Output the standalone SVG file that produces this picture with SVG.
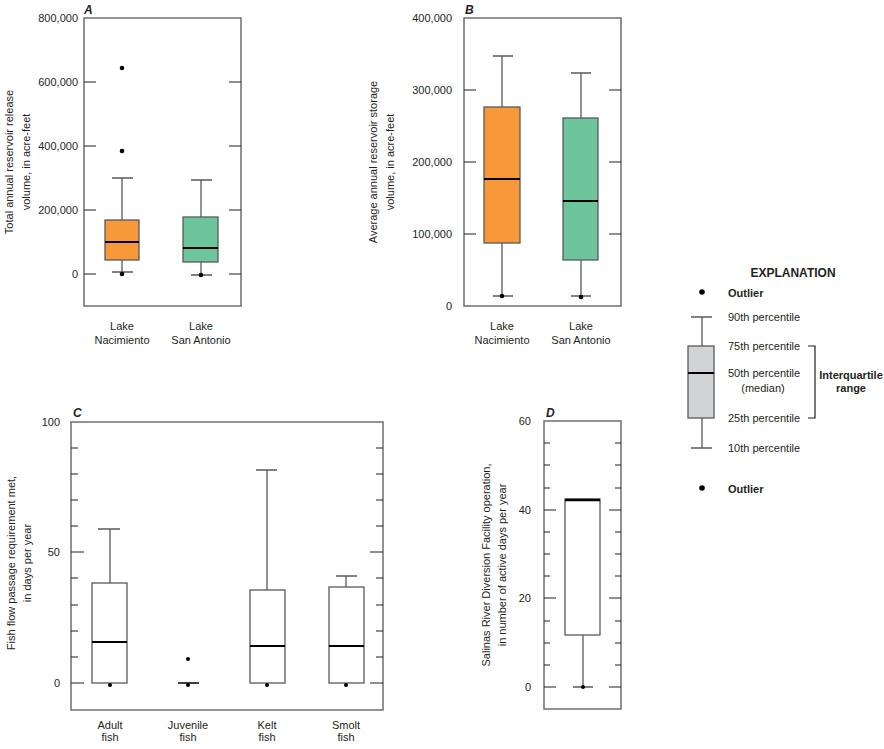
<svg xmlns="http://www.w3.org/2000/svg" width="884" height="749" viewBox="0 0 884 749">
<style>
text{font-family:"Liberation Sans",Arial,sans-serif;font-size:11px;fill:#231f20}
.b{font-weight:bold}
.i{font-weight:bold;font-style:italic;font-size:12px}
.m{text-anchor:middle}
.e{text-anchor:end}
.f{fill:none;stroke:#6d6e70;stroke-width:1.5}
.t{stroke:#231f20;stroke-width:1.2}
.w{stroke:#58595b;stroke-width:1.3;fill:none}
.box{stroke:#58595b;stroke-width:1.3}
.med{stroke:#000;stroke-width:2}
.o{fill:#f7993a}.g{fill:#6cc59b}.wh{fill:#fff}
</style>
<rect width="884" height="749" fill="#fff"/>
<g id="panelA">
<text class="i" x="84" y="14">A</text>
<rect class="f" x="84" y="18" width="157" height="288"/>
<path class="t" d="M84 82h12M84 146h12M84 210h12M84 274h12M229 82h12M229 146h12M229 210h12M229 274h12"/>
<text class="e" x="78" y="22">800,000</text><text class="e" x="78" y="86">600,000</text><text class="e" x="78" y="150">400,000</text><text class="e" x="78" y="214">200,000</text><text class="e" x="78" y="278">0</text>
<text class="m" transform="translate(13,162) rotate(-90)">Total annual reservoir release</text>
<text class="m" transform="translate(30,162) rotate(-90)">volume, in acre-feet</text>
<path class="w" d="M122 178v42M112 178h21M122 260v12M112 272h21"/>
<rect class="box o" x="105" y="220" width="34" height="40"/><path class="med" d="M105 242h34"/>
<circle cx="122" cy="68" r="2.3"/><circle cx="122" cy="151" r="2.3"/><circle cx="122" cy="274" r="2.3"/>
<path class="w" d="M201 180v37M191 180h21M201 262v13M191 275h21"/>
<rect class="box g" x="183" y="217" width="35" height="45"/><path class="med" d="M183 248h35"/>
<circle cx="201" cy="275" r="2.3"/>
<text class="m" x="122" y="330">Lake</text><text class="m" x="122" y="344">Nacimiento</text>
<text class="m" x="201" y="330">Lake</text><text class="m" x="201" y="344">San Antonio</text>
</g>
<g id="panelB">
<text class="i" x="465" y="14">B</text>
<rect class="f" x="464" y="18" width="157" height="288"/>
<path class="t" d="M464 90h12M464 162h12M464 234h12M609 90h12M609 162h12M609 234h12"/>
<text class="e" x="452" y="22">400,000</text><text class="e" x="452" y="94">300,000</text><text class="e" x="452" y="166">200,000</text><text class="e" x="452" y="238">100,000</text><text class="e" x="452" y="310">0</text>
<text class="m" transform="translate(377,162) rotate(-90)">Average annual reservoir storage</text>
<text class="m" transform="translate(394,162) rotate(-90)">volume, in acre-feet</text>
<path class="w" d="M502 56v51M493 56h20M502 243v53M493 296h20"/>
<rect class="box o" x="484" y="107" width="36" height="136"/><path class="med" d="M484 179h36"/>
<circle cx="502" cy="296" r="2.3"/>
<path class="w" d="M581 73v45M571 73h20M581 260v36M571 296h20"/>
<rect class="box g" x="563" y="118" width="35" height="142"/><path class="med" d="M563 201h35"/>
<circle cx="581" cy="297" r="2.3"/>
<text class="m" x="502" y="330">Lake</text><text class="m" x="502" y="344">Nacimiento</text>
<text class="m" x="581" y="330">Lake</text><text class="m" x="581" y="344">San Antonio</text>
</g>
<g id="panelC">
<text class="i" x="73" y="417">C</text>
<rect class="f" x="71" y="422" width="312" height="288"/>
<path class="t" d="M71 683h13M71 552h13M71 657h7M71 631h7M71 605h7M71 578h7M71 526h7M71 500h7M71 474h7M71 448h7M370 683h13M370 552h13M376 657h7M376 631h7M376 605h7M376 578h7M376 526h7M376 500h7M376 474h7M376 448h7"/>
<text class="e" x="60" y="426">100</text><text class="e" x="60" y="556">50</text><text class="e" x="60" y="687">0</text>
<text class="m" transform="translate(15,563) rotate(-90)">Fish flow passage requirement met,</text>
<text class="m" transform="translate(31,563) rotate(-90)">in days per year</text>
<path class="w" d="M110 529v54M98 529h22"/>
<rect class="box wh" x="92" y="583" width="35" height="100"/><path class="med" d="M92 642h35"/>
<circle cx="110" cy="685" r="2"/>
<path class="med" d="M178 683h21" style="stroke-width:1.5"/><circle cx="188" cy="659" r="2"/><circle cx="188" cy="685" r="2"/>
<path class="w" d="M267 470v120M256 470h21"/>
<rect class="box wh" x="250" y="590" width="35" height="93"/><path class="med" d="M250 646h35"/>
<circle cx="267" cy="685" r="2"/>
<path class="w" d="M346 576v11M336 576h21"/>
<rect class="box wh" x="329" y="587" width="35" height="96"/><path class="med" d="M329 646h35"/>
<circle cx="346" cy="685" r="2"/>
<text class="m" x="110" y="729">Adult</text><text class="m" x="110" y="741">fish</text>
<text class="m" x="188" y="729">Juvenile</text><text class="m" x="188" y="741">fish</text>
<text class="m" x="267" y="729">Kelt</text><text class="m" x="267" y="741">fish</text>
<text class="m" x="346" y="729">Smolt</text><text class="m" x="346" y="741">fish</text>
</g>
<g id="panelD">
<text class="i" x="546" y="417">D</text>
<rect class="f" x="544" y="421" width="77" height="288"/>
<path class="t" d="M544 687h12M544 598h12M544 510h12M544 665h6M544 643h6M544 621h6M544 576h6M544 554h6M544 532h6M544 488h6M544 465h6M544 443h6M609 687h12M609 598h12M609 510h12M615 665h6M615 643h6M615 621h6M615 576h6M615 554h6M615 532h6M615 488h6M615 465h6M615 443h6"/>
<text class="e" x="531" y="425">60</text><text class="e" x="531" y="514">40</text><text class="e" x="531" y="602">20</text><text class="e" x="531" y="691">0</text>
<text class="m" transform="translate(490,565) rotate(-90)">Salinas River Diversion Facility operation,</text>
<text class="m" transform="translate(506,565) rotate(-90)">in number of active days per year</text>
<path class="w" d="M583 635v52M573 687h20"/>
<rect class="box wh" x="565" y="499" width="35" height="136"/><path class="med" d="M565 500h35" style="stroke-width:2.5"/>
<circle cx="583" cy="687" r="2"/>
</g>
<g id="legend">
<text class="b m" x="793" y="277" style="font-size:12px">EXPLANATION</text>
<circle cx="702" cy="292" r="2.8"/><text class="b" x="728" y="297">Outlier</text>
<path class="w" d="M702 317v29M691 317h21M702 418v30M691 448h21"/>
<rect class="box" x="688" y="346" width="26" height="72" fill="#d1d3d4"/><path class="med" d="M688 373h26"/>
<circle cx="702" cy="488" r="2.8"/><text class="b" x="728" y="493">Outlier</text>
<text x="728" y="321">90th percentile</text>
<text x="728" y="350">75th percentile</text>
<text x="728" y="377">50th percentile</text>
<text class="m" x="763" y="392">(median)</text>
<text x="728" y="422">25th percentile</text>
<text x="728" y="452">10th percentile</text>
<path class="t" d="M808 346h7v72h-7" fill="none"/>
<text class="b m" x="851" y="379">Interquartile</text><text class="b m" x="851" y="392">range</text>
</g>
</svg>
